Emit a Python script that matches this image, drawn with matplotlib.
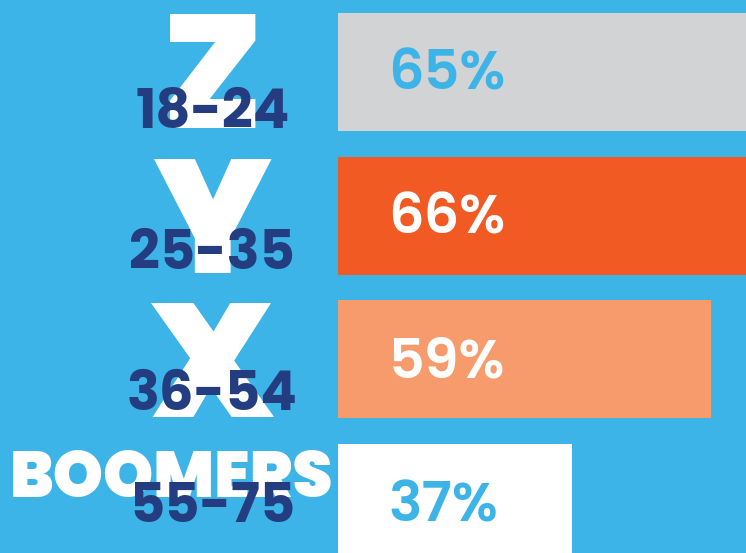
import matplotlib.pyplot as plt

# data
generations = ['Z', 'Y', 'X', 'BOOMERS']
ages = ['18-24', '25-35', '36-54', '55-75']
values = [65, 66, 59, 37]

bg = '#3DB4E7'
navy = '#243D80'
bar_colors = ['#D1D3D4', '#F15A22', '#F89B6C', '#FFFFFF']
pct_colors = [bg, '#FFFFFF', '#FFFFFF', bg]

big_font = ['Poppins', 'DejaVu Sans']
num_font = ['Poppins', 'DejaVu Sans']

fig = plt.figure(figsize=(7.46, 5.53), dpi=100)
fig.patch.set_facecolor(bg)
ax = fig.add_axes([0, 0, 1, 1])
ax.set_facecolor(bg)

rows = list(range(len(values)))
ax.barh(rows, values, height=0.82, color=bar_colors, zorder=1)

# scale: 1% = 6.32 px, bars start at x=338 px
ax.set_xlim(-338 / 6.32, (746 - 338) / 6.32)
ax.set_ylim((553 - 72) / 143.7, -72 / 143.7)
ax.axis('off')

big_x = [-19.9, -19.9, -19.9, -26.4]
big_dy = [0.39, 0.40, 0.40, -0.04]
big_size = [116, 116, 116, 46]
age_dy = [0.39, 0.37, 0.35, 0.13]

for i in rows:
    ax.text(big_x[i], i + big_dy[i], generations[i], color='white',
            family=big_font, fontsize=big_size[i], fontweight=900,
            ha='center', va='baseline', zorder=2)
    ax.text(-19.9, i + age_dy[i], ages[i], color=navy, family=num_font,
            fontsize=39, fontweight=700, ha='center', va='baseline',
            zorder=3)
    ax.text(8.0, i + 0.125, f'{values[i]}%', color=pct_colors[i],
            family=num_font, fontsize=40, fontweight=600, ha='left',
            va='baseline', zorder=3)

fig.savefig('out.png', dpi=100, facecolor=bg)
